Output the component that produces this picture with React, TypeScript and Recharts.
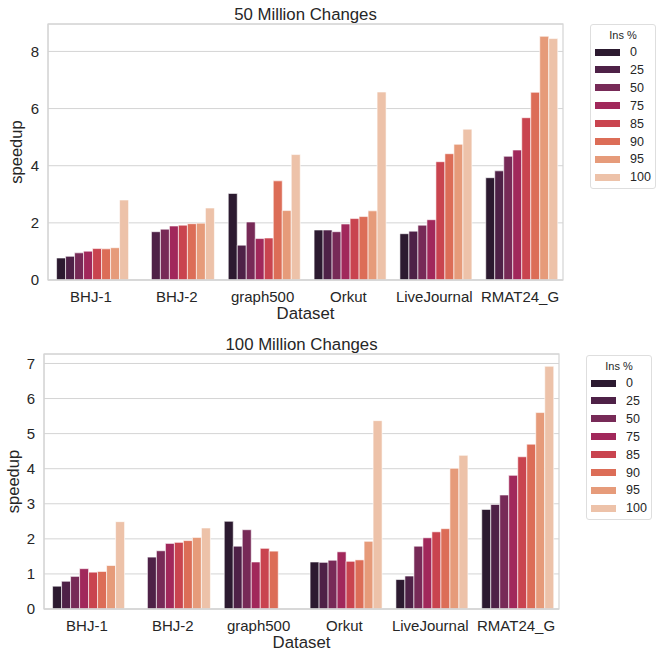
import { BarChart, Bar, XAxis, YAxis, CartesianGrid } from 'recharts'

const datasets = ['BHJ-1', 'BHJ-2', 'graph500', 'Orkut', 'LiveJournal', 'RMAT24_G']
const insLevels = ['0', '25', '50', '75', '85', '90', '95', '100']
const palette = ['#2c1a30', '#4e2147', '#772a57', '#a1285b', '#c9444f', '#dc6d57', '#e69b7a', '#edc2a9']

// 50 million changes, one array per Ins % level (BHJ-1 .. RMAT24_G)
const ins0_50M = [0.77, null, 3.03, 1.75, 1.62, 3.58]
const ins25_50M = [0.83, 1.69, 1.22, 1.75, 1.71, 3.82]
const ins50_50M = [0.95, 1.78, 2.03, 1.69, 1.92, 4.33]
const ins75_50M = [1.01, 1.89, 1.45, 1.96, 2.11, 4.55]
const ins85_50M = [1.10, 1.92, 1.47, 2.15, 4.14, 5.68]
const ins90_50M = [1.09, 1.97, 3.47, 2.22, 4.42, 6.57]
const ins95_50M = [1.13, 1.99, 2.43, 2.42, 4.75, 8.53]
const ins100_50M = [2.80, 2.52, 4.39, 6.58, 5.28, 8.45]

// 100 million changes
const ins0_100M = [0.65, null, 2.50, 1.34, 0.84, 2.84]
const ins25_100M = [0.79, 1.48, 1.79, 1.33, 0.94, 2.98]
const ins50_100M = [0.93, 1.66, 2.26, 1.39, 1.79, 3.25]
const ins75_100M = [1.15, 1.87, 1.34, 1.63, 2.03, 3.81]
const ins85_100M = [1.05, 1.90, 1.73, 1.36, 2.20, 4.34]
const ins90_100M = [1.07, 1.95, 1.65, 1.40, 2.29, 4.70]
const ins95_100M = [1.24, 2.04, null, 1.93, 4.01, 5.60]
const ins100_100M = [2.49, 2.31, null, 5.37, 4.38, 6.92]

const ticks50M = [0, 2, 4, 6, 8]
const ticks100M = [0, 1, 2, 3, 4, 5, 6, 7]

const FONT = '"Liberation Sans", Arial, sans-serif'
const INK = '#262626'
const GRID = '#d4d4d4'

type Series = (number | null)[]

function toRows(series: Series[]) {
  return datasets.map((name, i) => {
    const row: Record<string, string | number | null> = { dataset: name }
    insLevels.forEach((lvl, j) => { row[`ins${lvl}`] = series[j][i] })
    return row
  })
}

function InsLegend({ left, top }: { left: number; top: number }) {
  return (
    <div style={{
      position: 'absolute', left, top, width: 66, height: 165, boxSizing: 'border-box',
      border: '1px solid #dedede', borderRadius: 3, background: '#fff', fontFamily: FONT, color: INK,
    }}>
      <div style={{ position: 'absolute', left: 0, right: 0, top: 4, textAlign: 'center', fontSize: 11 }}>Ins %</div>
      {insLevels.map((lvl, j) => (
        <div key={lvl} style={{ position: 'absolute', left: 0, top: 27 + j * 17.9 - 8, height: 16, width: '100%' }}>
          <div style={{ position: 'absolute', left: 4, top: 4.5, width: 25, height: 7, background: palette[j] }} />
          <div style={{ position: 'absolute', left: 39, top: 0, fontSize: 12.5, lineHeight: '16px' }}>{lvl}</div>
        </div>
      ))}
    </div>
  )
}

interface PanelProps {
  top: number
  height: number
  title: string
  series: Series[]
  yMax: number
  yTicks: number[]
  margin: { top: number; right: number; bottom: number; left: number }
  ylabelX: number
  legendLeft: number
  legendTop: number
}

function SpeedupPanel({ top, height, title, series, yMax, yTicks, margin, ylabelX, legendLeft, legendTop }: PanelProps) {
  const rows = toRows(series)
  const yAxisWidth = 40
  const xAxisHeight = 30
  const plotLeft = margin.left + yAxisWidth
  const plotRight = 667 - margin.right
  const plotTop = margin.top
  const plotBottom = height - margin.bottom - xAxisHeight
  const cx = (plotLeft + plotRight) / 2
  const cy = (plotTop + plotBottom) / 2
  const tickStyle = { fontSize: 15, fill: INK, fontFamily: FONT }

  return (
    <div style={{ position: 'absolute', left: 0, top, width: 667, height }}>
      <BarChart width={667} height={height} data={rows} margin={margin} barCategoryGap="10%" barGap={0}>
        <CartesianGrid horizontal vertical={false} stroke={GRID} strokeWidth={1} />
        <XAxis dataKey="dataset" height={xAxisHeight} tickLine={false} tickMargin={5}
          axisLine={{ stroke: GRID }} tick={tickStyle} interval={0} />
        <YAxis domain={[0, yMax]} ticks={yTicks} width={yAxisWidth} tickLine={false}
          tickMargin={3} axisLine={{ stroke: GRID }} tick={tickStyle} allowDataOverflow />
        {insLevels.map((lvl, j) => (
          <Bar key={lvl} dataKey={`ins${lvl}`} fill={palette[j]}
            stroke="#ffffff" strokeWidth={0.6} isAnimationActive={false} />
        ))}
      </BarChart>
      <svg width={667} height={height} style={{ position: 'absolute', left: 0, top: 0, pointerEvents: 'none' }}
        fontFamily={FONT} fill={INK}>
        {/* axes frame (spines) */}
        <rect x={plotLeft} y={plotTop} width={plotRight - plotLeft} height={plotBottom - plotTop}
          fill="none" stroke={GRID} strokeWidth={1.2} />
        <text x={cx} y={20} textAnchor="middle" fontSize={16.8}>{title}</text>
        <text x={cx} y={plotBottom + 39} textAnchor="middle" fontSize={16.8}>Dataset</text>
        <text x={ylabelX} y={cy} textAnchor="middle" fontSize={16.5}
          transform={`rotate(-90 ${ylabelX} ${cy})`}>speedup</text>
      </svg>
      <InsLegend left={legendLeft} top={legendTop} />
    </div>
  )
}

export default function App() {
  return (
    <div style={{ position: 'absolute', left: 0, top: 0, width: 667, height: 653, background: '#fff', overflow: 'hidden' }}>
      <SpeedupPanel
        top={0}
        height={330}
        title="50 Million Changes"
        series={[ins0_50M, ins25_50M, ins50_50M, ins75_50M, ins85_50M, ins90_50M, ins95_50M, ins100_50M]}
        yMax={8.96}
        yTicks={ticks50M}
        margin={{ top: 24, right: 104, bottom: 20, left: 8 }}
        ylabelX={22}
        legendLeft={590}
        legendTop={24}
      />
      <SpeedupPanel
        top={330}
        height={323}
        title="100 Million Changes"
        series={[ins0_100M, ins25_100M, ins50_100M, ins75_100M, ins85_100M, ins90_100M, ins95_100M, ins100_100M]}
        yMax={7.27}
        yTicks={ticks100M}
        margin={{ top: 24, right: 108, bottom: 14, left: 4 }}
        ylabelX={18.5}
        legendLeft={586}
        legendTop={25}
      />
    </div>
  )
}
